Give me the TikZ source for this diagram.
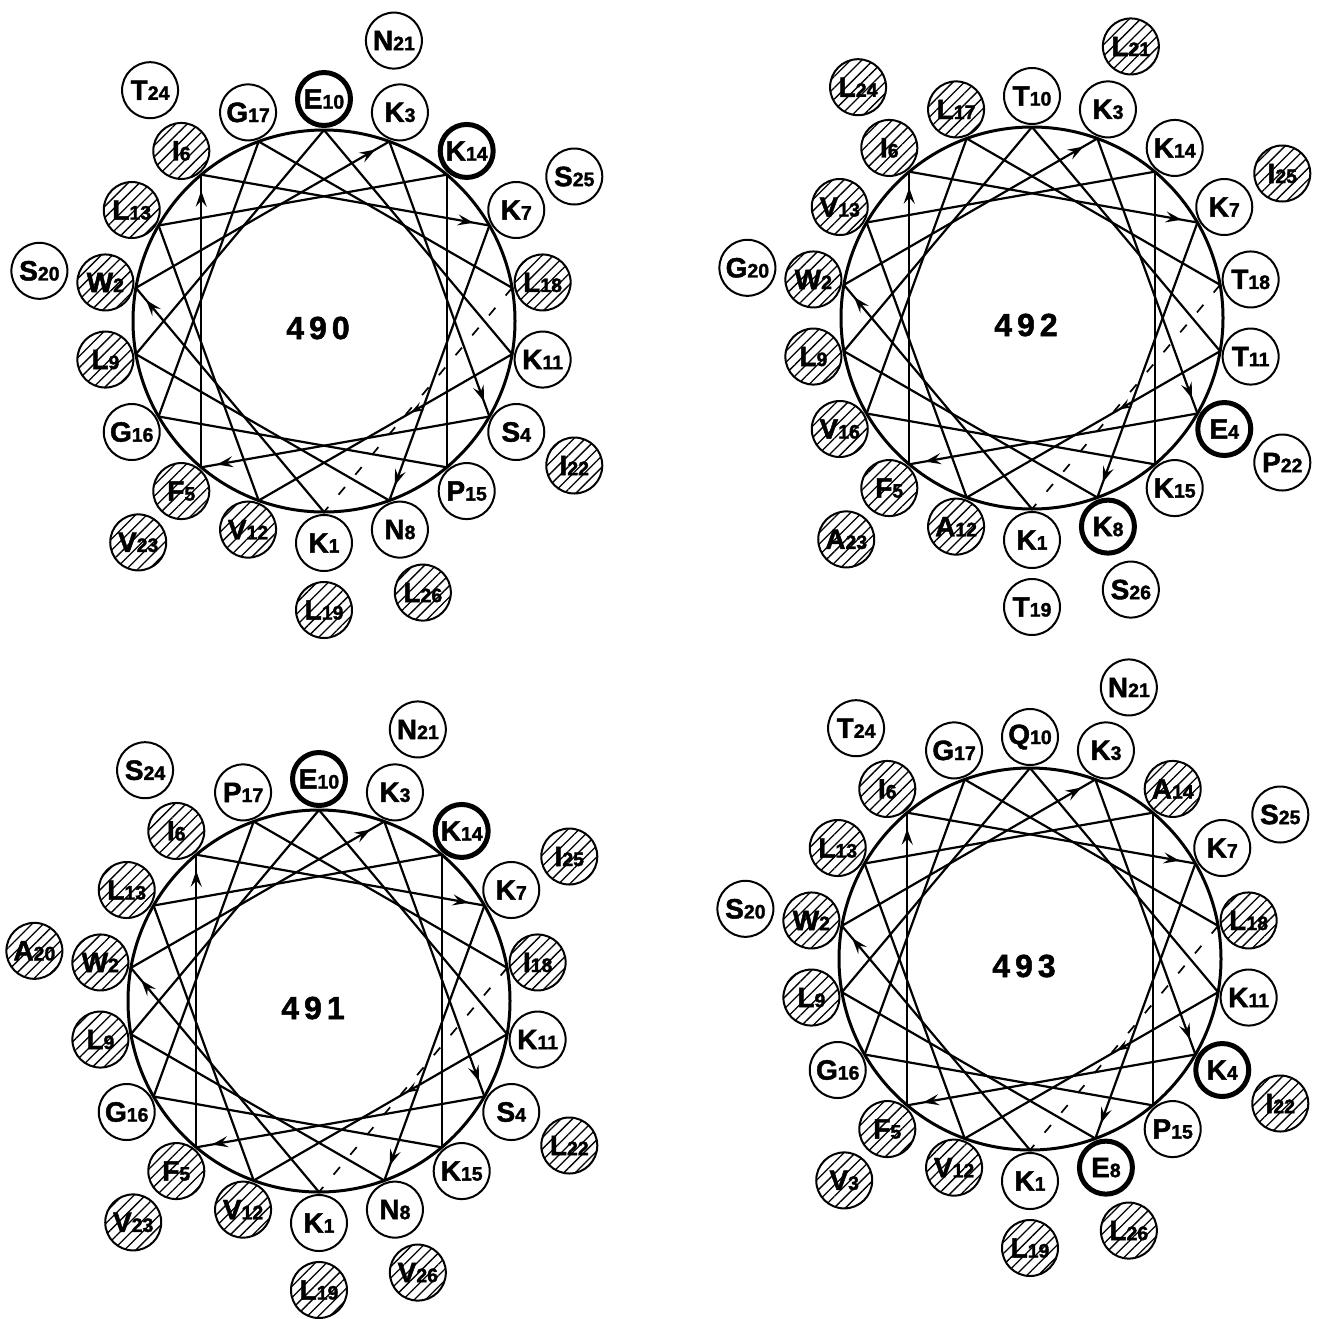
\documentclass[tikz,border=0pt]{standalone}
\usepackage{fontspec}
\setmainfont{Liberation Sans}[BoldFeatures={FakeBold=1.6}]
\usetikzlibrary{calc,arrows.meta,decorations.markings,patterns.meta}
\newcommand\rlab[2]{{\fontsize{28}{28}\selectfont #1}{\fontsize{19.5}{19.5}\selectfont #2}}
\newcommand\helixwheel[4]{%
 \coordinate (#1c) at #2;
 \draw[wheelline] (#1c) circle[radius=191pt];
 \foreach \n in {1,...,19}{
   \pgfmathsetmacro\ang{-90-100*(\n-1)}
   \coordinate (#1p\n) at ($(#1c)+(\ang:191pt)$);
 }
 \foreach \n in {1,...,7}{
   \pgfmathtruncatemacro\m{\n+1}
   \draw[chord,endarrow] (#1p\n) -- (#1p\m);
 }
 \foreach \n in {8,9,10,12,13,14,15,16,17}{
   \pgfmathtruncatemacro\m{\n+1}
   \draw[chord] (#1p\n) -- (#1p\m);
 }
 \draw[chord,midarrow] (#1p11) -- (#1p12);
 \draw[dashchord] (#1p18) -- (#1p19);
 \foreach \n/\L/\N/\s/\d in {#4}{
   \pgfmathsetmacro\ang{-90-100*(\n-1)+\d}
   \pgfmathsetmacro\rad{\n<19 ? 222 : 289}
   \node[\s] (#1r\n) at ($(#1c)+(\ang:\rad pt)$) {\rlab{\L}{\N}};
 }
 \node[wheellabel] (#1lab) at ($(#1c)+(-6,7)$) {#3};
}
\tikzset{
  wheelline/.style={line width=3pt},
  chord/.style={line width=2.2pt},
  dashchord/.style={line width=1.7pt, dash pattern=on 10pt off 16pt},
  endarrow/.style={postaction={decorate,decoration={markings,
     mark=at position -16pt with {\arrow{Stealth[length=16pt,width=11pt,inset=6pt]}}}}},
  midarrow/.style={postaction={decorate,decoration={markings,
     mark=at position 0.4 with {\arrow{Stealth[length=13pt,width=9pt,inset=5pt]}}}}},
  resbase/.style={circle, draw, fill=white, line width=2pt, minimum size=56pt,
     inner sep=0pt, font=\bfseries},
  resP/.style={resbase},
  resH/.style={resbase, postaction={pattern={Lines[angle=45,distance=8pt,line width=1.3pt]}}},
  resB/.style={resbase, line width=5pt, minimum size=53pt},
  wheellabel/.style={font=\bfseries\fontsize{32}{32}\selectfont}
}
\begin{document}
\begin{tikzpicture}[x=1pt,y=-1pt]
\useasboundingbox[fill=white] (0,0) rectangle (1322,1318);
\helixwheel{A}{(324,321)}{4\kern5pt 9\kern5pt 0}{1/K/1/resP/0, 2/W/2/resH/0, 3/K/3/resP/0, 4/S/4/resP/0, 5/F/5/resH/0, 6/I/6/resH/0, 7/K/7/resP/0, 8/N/8/resP/0, 9/L/9/resH/0, 10/E/10/resB/0, 11/K/11/resP/0, 12/V/12/resH/0, 13/L/13/resH/0, 14/K/14/resB/0, 15/P/15/resP/0, 16/G/16/resP/0, 17/G/17/resP/0, 18/L/18/resH/0, 19/L/19/resH/0, 20/S/20/resP/0, 21/N/21/resP/6, 22/I/22/resH/0, 23/V/23/resH/0, 24/T/24/resP/-3, 25/S/25/resP/0, 26/L/26/resH/0}
\helixwheel{B}{(1032,318)}{4\kern5pt 9\kern5pt 2}{1/K/1/resP/0, 2/W/2/resH/0, 3/K/3/resP/0, 4/E/4/resB/0, 5/F/5/resH/0, 6/I/6/resH/0, 7/K/7/resP/0, 8/K/8/resB/0, 9/L/9/resH/0, 10/T/10/resP/0, 11/T/11/resP/0, 12/A/12/resH/0, 13/V/13/resH/0, 14/K/14/resP/0, 15/K/15/resP/0, 16/V/16/resH/0, 17/L/17/resH/0, 18/T/18/resP/0, 19/T/19/resP/0, 20/G/20/resP/0, 21/L/21/resH/0, 22/P/22/resP/0, 23/A/23/resH/0, 24/L/24/resH/-3, 25/I/25/resH/0, 26/S/26/resP/0}
\helixwheel{C}{(319,1001)}{4\kern5pt 9\kern5pt 1}{1/K/1/resP/0, 2/W/2/resH/0, 3/K/3/resP/0, 4/S/4/resP/0, 5/F/5/resH/0, 6/I/6/resH/0, 7/K/7/resP/0, 8/N/8/resP/0, 9/L/9/resH/0, 10/E/10/resB/0, 11/K/11/resP/0, 12/V/12/resH/0, 13/L/13/resH/0, 14/K/14/resB/0, 15/K/15/resP/0, 16/G/16/resP/0, 17/P/17/resP/0, 18/I/18/resH/0, 19/L/19/resH/0, 20/A/20/resH/0, 21/N/21/resP/0, 22/L/22/resH/0, 23/V/23/resH/0, 24/S/24/resP/-3, 25/I/25/resH/0, 26/V/26/resH/0}
\helixwheel{D}{(1030,959)}{4\kern5pt 9\kern5pt 3}{1/K/1/resP/0, 2/W/2/resH/0, 3/K/3/resP/0, 4/K/4/resB/0, 5/F/5/resH/0, 6/I/6/resH/0, 7/K/7/resP/0, 8/E/8/resB/0, 9/L/9/resH/0, 10/Q/10/resP/0, 11/K/11/resP/0, 12/V/12/resH/0, 13/L/13/resH/0, 14/A/14/resH/0, 15/P/15/resP/0, 16/G/16/resP/0, 17/G/17/resP/0, 18/L/18/resH/0, 19/L/19/resH/0, 20/S/20/resP/0, 21/N/21/resP/0, 22/I/22/resH/0, 23/V/3/resH/0, 24/T/24/resP/-3, 25/S/25/resP/0, 26/L/26/resH/0}
\end{tikzpicture}
\end{document}
